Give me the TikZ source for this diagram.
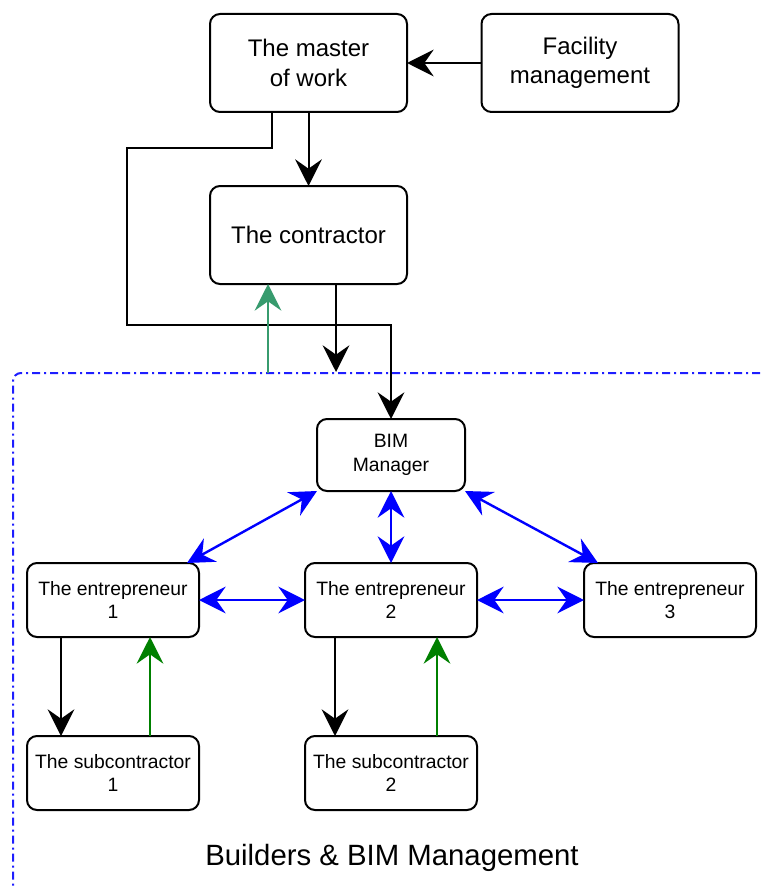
\documentclass[tikz,border=0pt]{standalone}
\usepackage{fontspec}
\setmainfont{Liberation Sans}
\usetikzlibrary{arrows.meta,calc}
\definecolor{frameblue}{RGB}{30,30,255}
\definecolor{tealgreen}{RGB}{55,155,110}
\definecolor{darkgreen}{RGB}{0,128,0}
\begin{document}
\begin{tikzpicture}[x=0.75pt,y=-0.75pt,
  box/.style={draw=black,line width=1.5pt,rounded corners=7.5pt,fill=white,
    inner sep=0pt,outer sep=0pt,align=center},
  bigbox/.style={box,minimum width=147.75pt,minimum height=73.5pt,
    font=\fontsize{18}{22}\selectfont},
  smallbox/.style={box,minimum width=129pt,minimum height=55.5pt,
    font=\fontsize{14.5}{17.5}\selectfont},
  bimbox/.style={box,minimum width=111pt,minimum height=54pt,
    font=\fontsize{14.5}{17.5}\selectfont},
  bigtip/.tip={Stealth[length=20pt,width=20pt,inset=7pt]},
  arr/.style={line width=1.5pt,-bigtip},
  garr/.style={line width=1.5pt,draw=tealgreen,fill=tealgreen,-bigtip},
  dgarr/.style={line width=1.5pt,draw=darkgreen,fill=darkgreen,-bigtip},
  barr/.style={line width=1.8pt,draw=blue,fill=blue,bigtip-bigtip},
  frame/.style={draw=frameblue,line width=1.5pt,dash pattern=on 6pt off 3pt on 1.5pt off 3pt,rounded corners=6pt}
]
\useasboundingbox (0,0) rectangle (760,888);

% frame
\draw[frame] (760,373) -- (13,373) -- (13,888);

% nodes
\node[bigbox] (master) at (308.5,63) {The master\\of work};
\node[bigbox] (facility) at (580,63) {Facility\\management};
\node[bigbox] (contractor) at (308.5,235) {\raisebox{-3pt}{The contractor}};
\node[bimbox] (bim) at (391,455) {BIM\\Manager};
\node[smallbox] (e1) at (113,600) {The entrepreneur\\1};
\node[smallbox] (e2) at (391,600) {The entrepreneur\\2};
\node[smallbox] (e3) at (670,600) {The entrepreneur\\3};
\node[smallbox] (s1) at (113,773) {The subcontractor\\1};
\node[smallbox] (s2) at (391,773) {The subcontractor\\2};
\node[font=\fontsize{22}{26}\selectfont] (label) at (392,858) {Builders \& BIM Management};

% coordinates
\coordinate (b1) at (272,148);
\coordinate (b2) at (127,148);
\coordinate (b3) at (127,325);
\coordinate (b4) at (391,325);
\coordinate (c1) at (336,372);
\coordinate (g1) at (268,373);
\coordinate (x187) at (187,0);
\coordinate (x598) at (598,0);
\coordinate (x61) at (61,0);
\coordinate (x150) at (150,0);
\coordinate (x335) at (335,0);
\coordinate (x437) at (437,0);

% upper connectors
\draw[arr] (facility.west) -- (master.east);
\draw[arr] (master.south) -- (contractor.north);
\draw[arr] (master.south -| b1) -- (b1) -- (b2) -- (b3) -- (b4) -- (bim.north);
\draw[arr] (contractor.south -| c1) -- (c1);
\draw[garr] (g1) -- (contractor.south -| g1);

% blue connectors
\draw[barr] (bim.south west) -- (e1.north -| x187);
\draw[barr] (bim.south) -- (e2.north);
\draw[barr] (bim.south east) -- (e3.north -| x598);
\draw[barr] (e1.east) -- (e2.west);
\draw[barr] (e2.east) -- (e3.west);

% lower connectors
\draw[arr] (e1.south -| x61) -- (s1.north -| x61);
\draw[dgarr] (s1.north -| x150) -- (e1.south -| x150);
\draw[arr] (e2.south -| x335) -- (s2.north -| x335);
\draw[dgarr] (s2.north -| x437) -- (e2.south -| x437);
\end{tikzpicture}
\end{document}
